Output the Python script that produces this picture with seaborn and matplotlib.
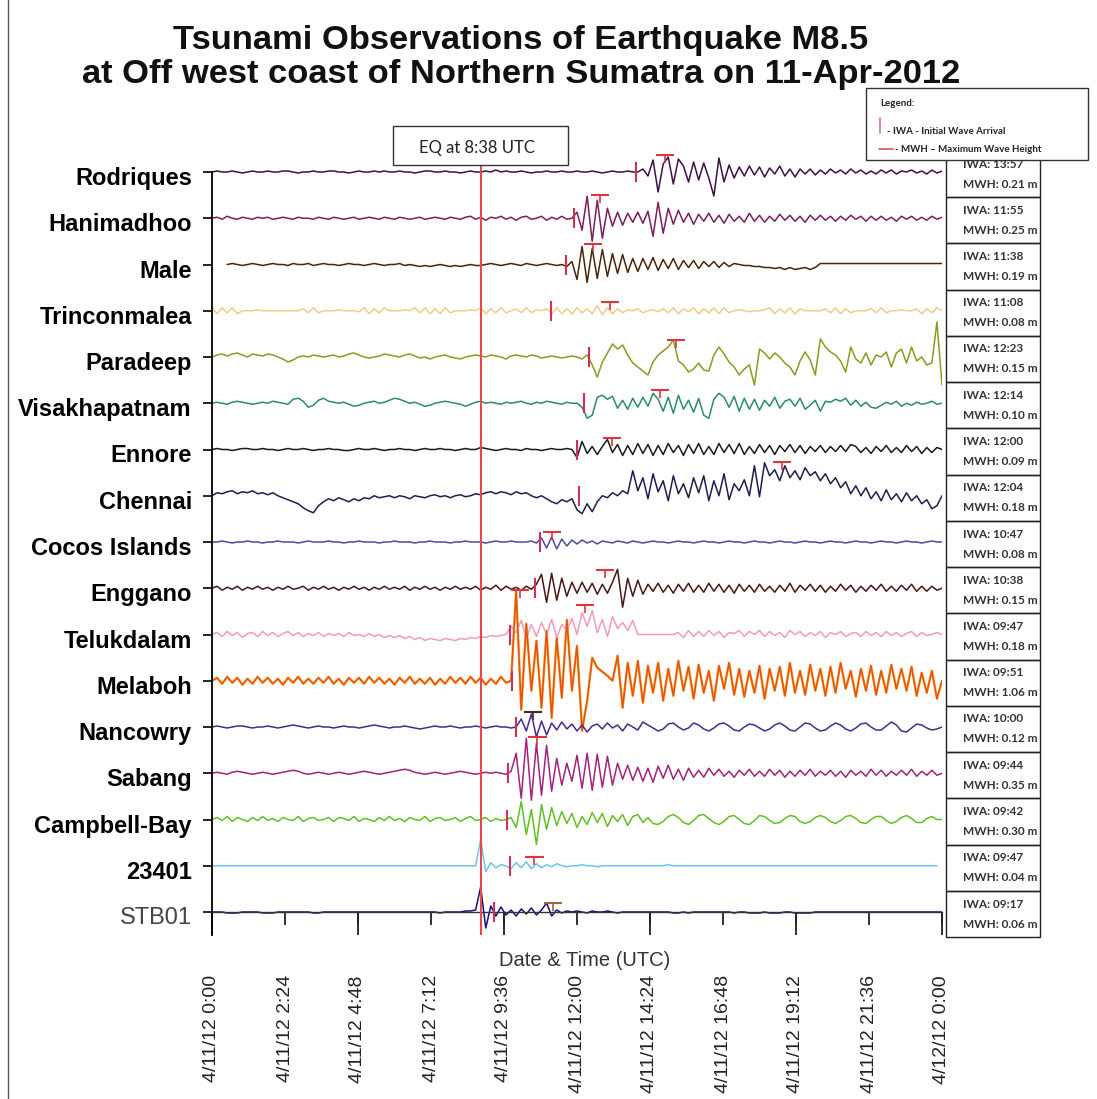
import numpy as np
import pandas as pd
import matplotlib
matplotlib.use("Agg")
import matplotlib.pyplot as plt
import matplotlib.transforms as mtransforms
from matplotlib.patches import Rectangle
from matplotlib.lines import Line2D
from matplotlib.ticker import FixedLocator
import seaborn as sns

sns.set_theme(style="white")
plt.rcParams['font.family'] = ['Liberation Sans', 'DejaVu Sans']

nan = np.nan

stations = ["Rodriques", "Hanimadhoo", "Male", "Trinconmalea", "Paradeep",
            "Visakhapatnam", "Ennore", "Chennai", "Cocos Islands", "Enggano",
            "Telukdalam", "Melaboh", "Nancowry", "Sabang", "Campbell-Bay",
            "23401", "STB01"]
colors = ["#3d1048", "#7b1f5e", "#4a2608", "#f6c98a", "#8a9a22",
          "#2a8c6c", "#1a1a1a", "#1e1e50", "#4c4ca0", "#4a1616",
          "#f29ac2", "#e8520e", "#4a2a8c", "#a2227c", "#62bf24",
          "#6ec4ea", "#12127c"]
iwa_labels = ["13:57", "11:55", "11:38", "11:08", "12:23", "12:14", "12:00",
              "12:04", "10:47", "10:38", "09:47", "09:51", "10:00", "09:44",
              "09:42", "09:47", "09:17"]
mwh_labels = ["0.21", "0.25", "0.19", "0.08", "0.15", "0.10", "0.09", "0.18",
              "0.08", "0.15", "0.18", "1.06", "0.12", "0.35", "0.30", "0.04",
              "0.06"]
# where the MWH mark sits on each trace (hour, height)
mwh_hour = [14.9, 12.76, 12.53, 13.09, 15.26, 14.74, 13.16, 18.75, 11.18,
            12.93, 12.27, 10.13, 10.56, 10.7, nan, 10.6, 11.2]
mwh_peak = [17, 23, 21, 9, 17, 13, 12, 34, 10, 18, 30, 91, 15, 36, nan, 9, 9]

# sea level traces, one value every 10 min from 4/11/12 0:00
rodriques = [0, 1, 0, 0, 1, 0, -1, 0, 1, 0, 0, 1,
             0, 0, 1, 1, 0, -1, 0, 0, 1, 0, 0, 1,
             1, 0, 0, -1, 0, 1, 0, 0, 1, 0, 1, 0,
             0, 1, 0, 0, -1, 0, 1, 1, 0, 0, 1, 0,
             0, -1, 0, 1, 0, 0, 1, 0, 2, 0, 1, 0,
             0, 1, 0, -1, 0, 0, 1, 0, 0, 1, 0, 0,
             1, 0, 0, 1, 0, -1, 0, 1, 0, 0, 1, 0,
             0, 3, -4, 12, -20, 8, 15, -12, 13, 6, -10, 10,
             -8, 9, -6, -24, 14, -10, 7, -6, 5, -4, 6, -3,
             5, -5, 4, -2, 6, -4, 3, -5, 3, -2, 3, -3,
             2, -2, 3, -1, 2, -2, 3, -1, 2, -2, 1, -2,
             2, -1, 2, -2, 1, 0, 2, -1, 1, -2, 2, -1, 1]
hanimadhoo = [0, 1, -1, 2, 0, -1, 1, 0, -1, 1, 0, 1,
              -1, 0, 1, 0, -1, 1, 0, 0, -1, 1, 0, -1,
              1, 0, -1, 0, 1, -1, 0, 1, 0, -1, 1, 0,
              -1, 1, 0, -1, 0, 1, -1, 0, 1, 0, -1, 1,
              0, -1, 1, 2, -1, 1, -2, 1, 0, 2, -1, 1,
              -2, 1, 2, -1, 0, 2, -2, 1, -1, 2, -1, 0,
              6, -12, 22, -23, 18, -20, 10, -8, 6, -7, 5, -4,
              6, -5, 7, -18, 16, -15, 10, -6, 8, -4, 5, -6,
              4, -3, 5, -4, 3, -5, 4, -3, 2, -4, 5, -3,
              3, -4, 2, -3, 4, -2, 3, -3, 2, -4, 3, -2,
              3, -2, 2, -3, 2, -2, 3, -1, 2, -3, 2, -2,
              2, -2, 1, -3, 2, -1, 2, -2, 1, -2, 2, -1, 1]
male = [nan, nan, nan, 0, 1, 0, -1, 0, 1, 0, -1, 0,
        1, 0, 0, -1, 1, 0, 0, 1, -1, 0, 1, 0,
        0, -1, 0, 1, 0, 0, -1, 0, 1, 0, -1, 0,
        0, 1, -1, 0, -1, -2, -1, -2, -1, 0, -1, -2,
        -1, -2, -1, 0, -1, -1, 0, 1, 0, -1, 0, 1,
        0, -1, 1, 0, -1, 0, 1, 0, -1, 0, -2, 3,
        -15, 18, -18, 16, -14, 15, -12, 11, -9, 10, -8, 6,
        -7, 6, -5, 7, -6, 5, -4, 6, -5, 4, -3, 4,
        -4, 3, -2, 3, -3, 2, -2, 1, 0, -1, -1, -2,
        -2, -3, -3, -4, -3, -5, -3, -5, -4, -3, -5, -3,
        1, 1, 1, 1, 1, 1, 1, 1, 1, 1, 1, 1,
        1, 1, 1, 1, 1, 1, 1, 1, 1, 1, 1, 1, 1]
trinconmalea = [3, -3, 3, -2, 3, -3, 0, 0, 0, 1, 0, 0,
                0, 0, 0, 0, 0, 0, 2, -2, 3, -2, 0, 0,
                0, 1, 0, 0, 0, -1, 3, -3, 2, -2, 3, 0,
                0, 0, 1, 0, 3, -2, 3, -3, 2, -3, 3, -2,
                0, 0, 0, 1, 0, 3, -3, 2, -2, 3, -2, 0,
                2, -2, 3, -2, 1, 0, 2, -3, 3, -3, 2, -3,
                3, -2, 2, -3, 5, -4, 3, -3, 2, -2, 1, 0,
                2, -2, 0, 1, -1, 2, -2, 3, -3, 2, -1, 3,
                -3, 2, -2, 3, -3, 3, -2, 0, 1, 0, -1, 0,
                0, 1, 3, -3, 2, -2, 3, -3, 2, 0, 0, 0,
                0, 2, -2, 3, -3, 2, -2, 0, 0, 0, 2, -2,
                3, -2, 0, 0, 1, 0, 0, 2, -3, 2, -2, 3, 0]
paradeep = [0, 2, 3, 1, 3, 4, 2, 0, 3, 2, 1, 3,
            2, 0, -2, -5, -3, 0, 1, 0, 2, 1, 0, 1,
            2, 0, 1, 3, 4, 2, 0, -1, 0, 1, 3, 2,
            1, 0, 2, 3, 1, -1, 0, -2, 0, 1, 2, 0,
            -1, -2, 0, 1, 2, 1, 0, 2, 1, 0, -2, 1,
            2, 1, 0, 2, 1, -1, 0, 1, 0, -1, 0, 1,
            0, -2, 2, -8, -20, -5, 4, 13, 8, 12, 2, -6,
            -10, -14, -18, -5, 2, 6, 10, 17, -4, -8, -15, -12,
            -6, -13, -14, 2, 10, 3, -5, -10, -18, -12, -8, -28,
            8, 4, -2, 4, 0, -6, -10, -18, -4, 5, -3, -18,
            18, 10, 5, 2, -4, -15, 10, -2, -6, 4, -8, 2,
            0, 5, -10, 4, 8, -6, 10, -4, 0, -8, -6, 35, -28]
visakhapatnam = [0, 1, 0, -1, 1, 2, 1, 0, -1, 0, 1, 0,
                 2, 1, 0, -1, 4, 5, 2, -4, -2, 3, 5, 2,
                 1, 0, 1, -1, -3, -2, 0, 1, 2, 0, 1, 3,
                 5, 4, 2, 0, 1, -1, -3, -2, 0, 1, 2, 1,
                 0, -1, -3, -1, 1, 2, 0, 1, 0, -1, 1, 0,
                 1, 2, 0, -1, 1, 0, 2, 1, 0, -1, 1, 0,
                 0, -4, -15, -12, 6, 8, 4, 7, -5, 3, -6, 5,
                 -4, 6, -3, 10, 4, -8, 6, -10, 8, -6, 3, -9,
                 5, -12, -15, 4, 10, 6, -4, 7, -8, 5, -6, 4,
                 -7, 3, -3, 6, -5, 2, 4, -3, 5, -6, -2, 3,
                 -8, 2, 1, 4, 2, 5, -2, 3, -3, 1, -4, -5,
                 -2, 1, -1, 2, -3, 0, -2, 1, -1, 0, 2, -1, 0]
ennore = [0, 1, 0, 0, -1, 0, 1, 1, 0, 0, 1, 0,
          0, -1, 0, 1, 0, 0, 1, 0, -1, 0, 0, 1,
          0, 0, -1, -1, 0, 1, 0, 0, 1, 0, -1, 0,
          0, 1, 0, 0, -1, 0, 1, 0, 0, 1, 0, 0,
          -1, 0, 1, 0, 0, 2, 1, 0, -1, 0, 1, 0,
          0, -1, 1, 0, 0, -1, 0, 1, 0, 0, 1, 0,
          -8, 8, -4, 3, -5, 3, 10, -3, 5, -6, 4, -5,
          6, -4, 5, -6, 4, -5, 6, -3, 4, -6, 5, -4,
          6, -5, 3, -5, 6, -3, 5, -4, 6, -5, 3, -4,
          5, -3, 4, -5, 4, -2, 5, -3, 4, -4, 3, -2,
          4, -3, 3, -2, 4, -2, 5, 3, -3, 2, -4, 3,
          -2, 4, -3, 2, -3, 4, -2, 3, -4, 2, -3, 2, 0]
chennai = [0, 3, 2, 4, 5, 2, 4, 3, 5, 2, 3, 1,
           3, 0, -2, -4, -6, -8, -12, -15, -17, -10, -6, -3,
           -5, -2, -4, -6, -3, -5, -2, -3, 0, -2, -1, 0,
           -2, 0, -1, -3, 0, -1, -2, 0, 1, -1, 0, -2,
           0, 1, -1, 0, 2, 1, 3, 4, 2, 4, 3, 1,
           4, 2, 3, 0, -2, 0, -3, -6, -8, -4, -6, -3,
           -14, -18, -8, -16, -6, 0, -2, 3, 0, 5, 2, 25,
           5, 18, -3, 22, 4, 15, -5, 20, 2, 12, -2, 18,
           3, 20, -5, 15, 0, 22, -4, 12, 5, 16, 0, 30,
           -1, 33, 20, 26, 15, 30, 18, 25, 16, 28, 20, 24,
           15, 22, 12, 18, 8, 14, 2, 10, 0, 8, -3, 4,
           -5, 6, -4, 2, -6, 3, -5, 0, -8, -4, -13, -10, 0]
cocos = [0, 0, 1, 0, -1, 0, 0, 1, 0, 0, -1, 0,
         0, 1, 0, 0, 0, -1, 0, 1, 0, 0, 0, 1,
         0, 0, -1, 0, 0, 1, 0, 0, 0, -1, 0, 0,
         1, 0, 0, 0, -1, 0, 0, 1, 0, 0, 0, -1,
         0, 0, 1, 0, 0, 0, -1, 0, 1, 0, 0, 1,
         0, 0, 0, 1, -1, 4, -6, 5, -7, 3, -4, 2,
         -2, 2, -1, 1, -2, 1, 0, -1, 1, 0, -1, 1,
         0, -1, 0, 1, 0, 0, -1, 0, 1, 0, 0, -1,
         0, 1, 0, 0, -1, 0, 1, 0, 0, -1, 0, 1,
         0, 0, -1, 0, 1, 0, 0, -1, 0, 1, 0, 0,
         -1, 0, 1, 0, 0, -1, 0, 1, 0, 0, -1, 0,
         1, 0, 0, -1, 0, 1, 0, 0, -1, 0, 1, 0, 0]
enggano = [0, 2, -2, 1, -1, 2, -2, 1, -1, 2, -1, 1,
           -2, 1, -1, 2, -1, 0, 2, -2, 1, -1, 2, -1,
           1, -2, 1, -1, 2, -1, 1, -2, 1, -1, 2, -1,
           1, -1, 2, -2, 1, -1, 2, -1, 1, -2, 1, -1,
           2, -1, 1, -1, 2, -2, 1, -1, 3, -2, 2, -1,
           1, -2, 2, -1, 4, 14, -14, 15, -12, 10, -8, 6,
           -5, 6, -4, 5, -6, 4, -5, 6, 19, -19, 10, -8,
           8, -6, 4, -3, 5, -4, 3, -5, 4, -3, 5, -4,
           3, -4, 5, -3, 4, -4, 3, -5, 4, -3, 3, -4,
           4, -3, 2, -4, 3, -3, 5, -4, 3, -2, 4, -3,
           3, -4, 2, -3, 4, -2, 3, -4, 2, -3, 3, -2,
           4, -3, 2, -3, 3, -2, 4, -3, 2, -3, 2, -2, 0]
telukdalam = [0, 2, -2, 3, -1, 2, -3, 1, 2, -2, 3, -1,
              2, -2, 1, 3, -1, 2, -2, 1, -1, 2, -2, 1,
              -1, 1, -2, 2, -1, 0, -2, 1, -2, 0, -3, -1,
              -3, -1, -4, -2, -5, -3, -6, -4, -5, -6, -4, -5,
              -6, -4, -5, -3, -4, -2, -3, -1, -2, -1, 0, 8,
              2, 14, -4, 10, -2, 12, 0, 15, -3, 10, 4, 16,
              0, 22, 8, 24, 2, 15, -2, 18, 6, 12, 4, 14,
              0, 0, 0, 0, 0, 0, 0, 0, 2, -3, 4, -2,
              3, -2, 4, -1, 3, -3, 2, 1, 4, -2, 3, 0,
              4, -2, 3, -1, 2, -3, 4, 0, 3, -2, 2, -1,
              3, -3, 2, 0, 3, -2, 1, 2, -2, 3, -1, 2,
              -2, 3, -1, 2, -2, 1, 3, -2, 2, -1, 0, 2, 0]
melaboh = [0, 3, -3, 4, -2, 3, -4, 2, -3, 4, -2, 3,
           -3, 2, -4, 3, -2, 4, -3, 2, -3, 3, -2, 4,
           -3, 2, -4, 3, -2, 3, -3, 4, -2, 3, -3, 2,
           -4, 3, -2, 4, -3, 2, -3, 3, -4, 2, -3, 4,
           -2, 3, -3, 4, -2, 3, -4, 2, -3, 4, -2, 0,
           90, -29, 57, -10, 40, -27, 50, -37, 43, -17, 61, -10,
           35, -50, -20, 23, 13, 9, 5, 0, 25, -27, 18, -15,
           20, -22, 15, -12, 18, -20, 12, -15, 20, -10, 14, -18,
           16, -12, 10, -20, 15, -8, 18, -14, 12, -16, 10, -12,
           15, -18, 12, -10, 14, -15, 18, -12, 10, -14, 16, -10,
           12, -15, 14, -12, 18, -8, 10, -16, 12, -10, 15, -14,
           10, -12, 16, -8, 12, -10, 14, -15, 8, -12, 10, -18, 0]
nancowry = [0, 1, 0, -1, 0, 1, 1, 0, -1, 0, 0, 1,
            0, -1, 0, 1, 2, 1, 0, -1, 0, 1, 0, 0,
            -1, 0, 1, 0, 0, -1, 0, 1, 2, 1, 0, -1,
            0, 0, 1, 0, -1, -2, -1, 0, 1, 0, 0, 1,
            0, -1, 0, 0, 1, 0, -1, 0, 1, 0, 0, -1,
            0, 8, -4, 13, -10, 6, -8, 4, -3, 5, -2, 3,
            -4, 2, -5, 1, 3, -2, 4, -1, 2, -4, 3, 0,
            -3, 5, 2, -1, -4, -2, 3, 4, 0, -3, -1, 4,
            2, -2, -4, -1, 3, 4, 1, -3, -4, 0, 3, 2,
            -1, -4, -2, 2, 4, 1, -3, -4, 0, 4, 3, -1,
            -4, -3, 1, 4, 2, -2, -4, -1, 3, 4, 0, -3,
            -3, 1, 5, 2, -4, -5, -1, 3, 2, -1, -3, -2, 0]
sabang = [0, 1, 0, -1, 1, 2, 1, 0, -1, 0, 1, 0,
          -1, 0, 1, 2, 3, 2, 0, -1, 0, 1, 0, -1,
          0, 1, 0, -1, 0, 1, 2, 1, 0, -1, 0, 1,
          2, 3, 4, 3, 1, 0, -1, 0, 1, 0, -1, 0,
          1, 2, 1, 0, -1, 0, 1, 0, 1, 0, -1, 2,
          20, -25, 35, -27, 30, -22, 28, -18, 15, -12, 10, -8,
          18, -15, 20, -17, 19, -14, 17, -12, 10, -6, 8, -7,
          6, -8, 5, -9, 7, -5, 8, -6, 4, -7, 5, -4,
          3, -4, 5, -2, 4, -3, 2, -4, 3, -2, 4, -3,
          2, -3, 4, -2, 3, -4, 2, -3, 3, -2, 4, -3,
          2, -2, 3, -3, 2, -4, 3, -2, 2, -3, 4, -2,
          3, -3, 2, -2, 3, -2, 4, -3, 2, -2, 3, -2, 0]
campbell_bay = [0, 2, -1, 3, -2, 2, 0, -2, 2, -1, 3, -1,
                1, -2, 2, 0, -1, 3, -2, 1, 2, -1, 0, 2,
                -2, 2, 1, -1, 3, -2, 1, 0, -2, 2, -1, 3,
                -1, 1, -2, 2, 0, -1, 3, -2, 1, 2, -1, 0,
                2, -2, 1, 3, -1, 0, 2, -2, 1, -1, 0, 2,
                -8, 18, -15, 10, -25, 15, -10, 12, -6, 8, -4, 6,
                -8, 3, -5, 7, -3, 6, -7, 4, -2, 5, -6, 3,
                5, -3, 2, -4, -5, -2, 3, 5, 2, -3, -5, -1,
                4, 5, 1, -3, -5, -2, 3, 4, 0, -4, -5, -1,
                4, 3, -1, -4, -3, 1, 4, 3, -2, -4, -2, 2,
                4, 2, -2, -4, -1, 3, 4, 1, -3, -4, 0, 3,
                3, -1, -4, -2, 2, 4, 1, -3, -3, 1, 3, 0, 0]
dart_23401 = [0, 0, 0, 0, 0, 0, 0, 0, 0, 0, 0, 0,
              0, 0, 0, 0, 0, 0, 0, 0, 0, 0, 0, 0,
              0, 0, 0, 0, 0, 0, 0, 0, 0, 0, 0, 0,
              0, 0, 0, 0, 0, 0, 0, 0, 0, 0, 0, 0,
              0, 0, 0, 0, 0, 26, -6, 3, -2, 1, 0, -3,
              3, -2, 4, -3, 2, -2, 1, -1, 2, 0, -1, 0,
              0, 1, 0, 0, -1, 0, 0, 0, 0, 0, 0, 0,
              0, 0, 0, 0, 0, 0, 1, 0, 0, 0, 0, 0,
              0, 0, 0, 0, 0, 0, 0, 0, 0, 0, 0, 0,
              0, 0, 0, 0, 0, 0, 0, 0, 0, 0, 0, 0,
              0, 0, 0, 0, 0, 0, 0, 0, 0, 0, 0, 0,
              0, 0, 0, 0, 0, 0, 0, 0, 0, 0, 0, 0, nan]
stb01 = [0, 0, 0, -1, -1, -1, 0, 0, 0, 0, -1, -1,
         -1, 0, 0, 0, 0, 0, 0, 0, -1, -1, 0, 0,
         0, 0, 0, 0, 0, 0, 0, 0, 0, 0, 0, 0,
         0, 0, 0, 0, 0, 0, 0, 0, 0, -1, 0, 0,
         0, 0, 1, 1, 2, 25, -16, 6, -4, 5, -3, 2,
         -4, 3, -2, 4, -3, 2, 9, -4, 2, -1, 1, 0,
         1, 0, -1, 1, 0, 0, 1, 0, -1, 0, 0, 0,
         0, 0, 0, 0, 0, 0, 0, -1, -1, 0, -1, 0,
         0, 0, 0, 0, 0, 0, 0, -1, 0, 0, -1, -1,
         -1, 0, -1, -1, -1, 0, 0, -1, -1, -1, -1, 0,
         0, 0, 0, 0, 0, 0, 0, 0, 0, 0, 0, 0,
         0, 0, 0, 0, 0, 0, 0, 0, 0, 0, 0, 0, 0]

traces = [rodriques, hanimadhoo, male, trinconmalea, paradeep, visakhapatnam,
          ennore, chennai, cocos, enggano, telukdalam, melaboh, nancowry,
          sabang, campbell_bay, dart_23401, stb01]

tick_hours = [0, 2.4, 4.8, 7.2, 9.6, 12, 14.4, 16.8, 19.2, 21.6, 24]
tick_labels = ["4/11/12 0:00", "4/11/12 2:24", "4/11/12 4:48", "4/11/12 7:12",
               "4/11/12 9:36", "4/11/12 12:00", "4/11/12 14:24",
               "4/11/12 16:48", "4/11/12 19:12", "4/11/12 21:36",
               "4/12/12 0:00"]
# the red EQ line sits a little right of 8:38 in the original plot
eq_line_hour = 8.85

# rows are stacked, one row = 46.25 units (≈ pixels)
row = 46.25
n = len(stations)
base = {s: (n - 1 - i) * row for i, s in enumerate(stations)}

recs = []
for s, vals in zip(stations, traces):
    for k, v in enumerate(vals):
        recs.append({"station": s, "hour": k / 6, "y": base[s] + v})
df = pd.DataFrame(recs)

W, H = 1097, 1099
fig = plt.figure(figsize=(W / 100, H / 100), dpi=100)
fig.patch.set_facecolor("white")
ax = fig.add_axes([212 / W, 1 - 935 / H, 730 / W, 795 / H])

# melaboh has a yellow-orange layer under the red one
sns.lineplot(data=df[df["station"] == "Melaboh"], x="hour", y="y",
             color="#f5b040", lw=1.8, estimator=None, ax=ax)
sns.lineplot(data=df, x="hour", y="y", hue="station",
             palette=dict(zip(stations, colors)), estimator=None,
             lw=1.1, legend=False, sort=False, ax=ax)

# initial wave arrival / max wave height marks
for i, s in enumerate(stations):
    hh, mm = iwa_labels[i].split(":")
    t = int(hh) + int(mm) / 60
    ax.vlines(t, base[s] - 10, base[s] + 10, color="#d1305a", lw=1.5, zorder=5)
    if not np.isnan(mwh_hour[i]):
        c = "#d9363e"
        if s == "Nancowry":
            c = "#3a2a2a"
        if s == "STB01":
            c = "#9a6a3a"
        top = base[s] + mwh_peak[i]
        ax.hlines(top, mwh_hour[i] - 0.3, mwh_hour[i] + 0.3, color=c, lw=1.5, zorder=5)
        ax.vlines(mwh_hour[i], top - 8, top, color=c, lw=1.2, zorder=5)

ax.axvline(eq_line_hour, ymin=0, ymax=(935 - 165) / 795, color="#e8474b",
           lw=1.5, zorder=6)

ax.set_xlim(0, 24)
ax.set_ylim(-23, 772)
ax.set_xlabel("")
ax.set_ylabel("")

for sp in ("top", "right"):
    ax.spines[sp].set_visible(False)
ax.spines["left"].set_color("black")
ax.spines["left"].set_linewidth(1.3)
ax.spines["left"].set_bounds(-23, base["Rodriques"])
ax.spines["bottom"].set_position(("data", 0))
ax.spines["bottom"].set_color("#333333")
ax.spines["bottom"].set_linewidth(1)

ax.set_yticks([base[s] for s in stations])
ax.set_yticklabels(stations)
ax.tick_params(axis="y", left=True, length=6.5, width=1.2, pad=8, color="black")
shift = mtransforms.ScaledTranslation(0, -4 / 100, fig.dpi_scale_trans)
for lbl in ax.get_yticklabels():
    lbl.set_fontsize(17)
    lbl.set_transform(lbl.get_transform() + shift)
    if lbl.get_text() == "STB01":
        lbl.set_color("#444444")
    else:
        lbl.set_fontweight("bold")
        lbl.set_color("black")

ax.xaxis.remove_overlapping_locs = False
ax.set_xticks(tick_hours)
ax.set_xticklabels(tick_labels)
ax.xaxis.set_minor_locator(FixedLocator(tick_hours[::2]))
ax.tick_params(axis="x", which="major", bottom=True, length=9.5, width=1.3,
               pad=36, color="#222222", labelsize=14, labelcolor="#222222",
               labelrotation=90)
ax.tick_params(axis="x", which="minor", bottom=True, length=16.5, width=1.3,
               color="#222222")

# info boxes on the right
bfam = ["Lato", "DejaVu Sans"]
for i, s in enumerate(stations):
    c = base[s] - 2
    ax.add_patch(Rectangle((24.13, c - row / 2), 3.09, row, fill=False,
                           edgecolor="#222222", lw=1, clip_on=False))
    ax.text(24.7, c + 10, "IWA: " + iwa_labels[i], fontsize=8.5, fontweight="bold",
            color="#333333", family=bfam, va="center", clip_on=False)
    ax.text(24.7, c - 10, "MWH: " + mwh_labels[i] + " m", fontsize=8.5,
            fontweight="bold", color="#333333", family=bfam,
            va="center", clip_on=False)

# title
fig.text(521 / W, 1 - 40 / H, "Tsunami Observations of Earthquake M8.5", ha="center",
         va="center", fontsize=24.8, fontweight="bold", color="#111111")
fig.text(521 / W, 1 - 75 / H, "at Off west coast of Northern Sumatra on 11-Apr-2012",
         ha="center", va="center", fontsize=24.8, fontweight="bold", color="#111111")

fig.text(585 / W, 1 - 960 / H, "Date & Time (UTC)", ha="center", va="center",
         fontsize=14.5, color="#333333")

# EQ box
fig.patches.append(Rectangle((393 / W, 1 - 165 / H), 175 / W, 39 / H, fill=True,
                             facecolor="white", edgecolor="#333333", lw=1,
                             transform=fig.transFigure))
fig.text(477 / W, 1 - 148 / H, "EQ at 8:38 UTC", ha="center", va="center",
         fontsize=12, color="#222222", family=bfam)

# legend box
fig.patches.append(Rectangle((866 / W, 1 - 160 / H), 222 / W, 72 / H, fill=True,
                             facecolor="white", edgecolor="#333333", lw=1,
                             transform=fig.transFigure))
fig.text(880 / W, 1 - 104 / H, "Legend:", fontsize=7, fontweight="bold",
         color="#222222", family=bfam, va="center")
fig.add_artist(Line2D([880 / W, 880 / W], [1 - 118 / H, 1 - 133 / H],
                      color="#e0708c", lw=1.2, transform=fig.transFigure))
fig.text(887 / W, 1 - 131 / H, "- IWA - Initial Wave Arrival", fontsize=7,
         fontweight="bold", color="#222222", family=bfam, va="center")
fig.add_artist(Line2D([879 / W, 893 / W], [1 - 149 / H, 1 - 149 / H],
                      color="#e05050", lw=1.2, transform=fig.transFigure))
fig.text(895 / W, 1 - 149 / H, "- MWH \u2013 Maximum Wave Height", fontsize=7,
         fontweight="bold", color="#222222", family=bfam, va="center")

# page border
fig.add_artist(Line2D([8 / W, 8 / W], [0, 1], color="#555555", lw=1,
                      transform=fig.transFigure))

fig.savefig("out.png", dpi=100)
